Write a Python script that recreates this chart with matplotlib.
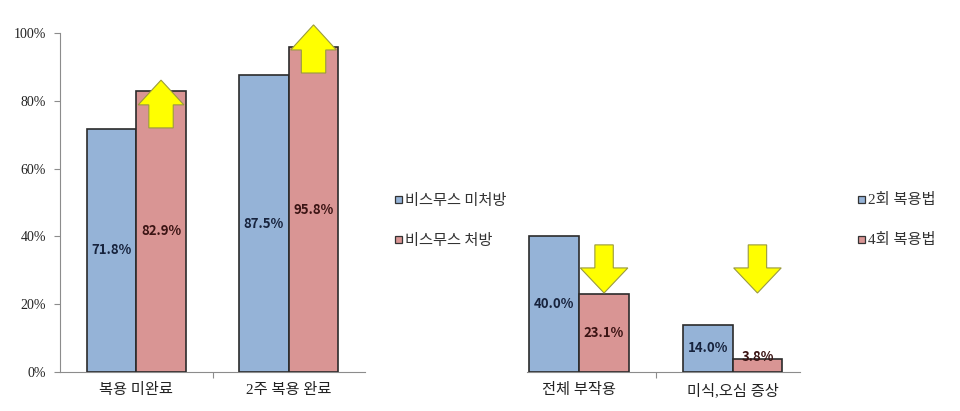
import matplotlib.pyplot as plt
from matplotlib.patches import Polygon, Rectangle

# data
cats_left = ['복용 미완료', '2주 복용 완료']
left_no = [71.8, 87.5]      # 비스무스 미처방
left_yes = [82.9, 95.8]     # 비스무스 처방
left_legend = ['비스무스 미처방', '비스무스 처방']

cats_right = ['전체 부작용', '미식,오심 증상']
right_2 = [40.0, 14.0]      # 2회 복용법
right_4 = [23.1, 3.8]       # 4회 복용법
right_legend = ['2회 복용법', '4회 복용법']

yticks = [0, 20, 40, 60, 80, 100]

blue = '#95B3D7'
pink = '#D99594'
edge = '#2b2b2b'
yellow = '#FFFF00'
serif_kr = ['Liberation Serif', 'Noto Sans CJK KR']
sans_kr = ['Noto Sans CJK KR', 'DejaVu Sans']

fig = plt.figure(figsize=(9.6, 4.11), dpi=100)
W, H = 960, 411
axL = fig.add_axes([60 / W, (H - 372) / H, 305 / W, 339 / H])
axR = fig.add_axes([527 / W, (H - 372) / H, 273 / W, 339 / H])

bw = 0.325


def arrow(ax, xc, y0, y1, ybase, head_w, shaft_w):
    # y0: shaft end, ybase: head base, y1: tip
    pts = [(xc - shaft_w / 2, y0), (xc + shaft_w / 2, y0), (xc + shaft_w / 2, ybase),
           (xc + head_w / 2, ybase), (xc, y1), (xc - head_w / 2, ybase),
           (xc - shaft_w / 2, ybase)]
    ax.add_patch(Polygon(pts, closed=True, fc=yellow, ec='#9a9a40', lw=0.8,
                         clip_on=False, zorder=5))


def draw(ax, cats, a, b, lbl_col):
    x = list(range(len(cats)))
    ax.bar([i - bw / 2 for i in x], a, bw, color=blue, edgecolor=edge, lw=1.2, zorder=3)
    ax.bar([i + bw / 2 for i in x], b, bw, color=pink, edgecolor=edge, lw=1.2, zorder=3)
    for i in x:
        for dx, v, c in [(-bw / 2, a[i], '#17233d'), (bw / 2, b[i], '#3b1414')]:
            y = v / 2 if v > 10 else v + 0.6
            ax.text(i + dx, y, f'{v:.1f}%', ha='center', va='center', fontsize=9.5,
                    fontweight='bold', color=c, family=sans_kr, zorder=6)
    ax.set_ylim(0, 100)
    ax.set_xticks([0.5])
    ax.set_xticklabels([])
    for i, c in enumerate(cats):
        ax.text(i, -3.3, c, ha='center', va='top', fontsize=11, family=serif_kr,
                color='#222222')
    for s in ['top', 'right']:
        ax.spines[s].set_visible(False)
    ax.spines['bottom'].set_color('#8c8c8c')
    ax.spines['left'].set_color('#8c8c8c')
    ax.tick_params(axis='x', length=4, color='#8c8c8c')


draw(axL, cats_left, left_no, left_yes, None)
axL.set_xlim(-0.5, 1.5)
axL.set_yticks(yticks)
axL.set_yticklabels([f'{t}%' for t in yticks], family='Liberation Serif', fontsize=10,
                    color='#222222')
axL.tick_params(axis='y', length=4, color='#8c8c8c', pad=6)

draw(axR, cats_right, right_2, right_4, None)
axR.set_xlim(-0.34, 1.44)
axR.spines['left'].set_visible(False)
axR.set_yticks([])

# arrows
arrow(axL, bw / 2, 72.0, 86.1, 78.8, 0.30, 0.16)
arrow(axL, 1 + bw / 2, 88.2, 102.4, 95.0, 0.30, 0.16)
arrow(axR, bw / 2, 37.5, 23.3, 30.7, 0.31, 0.12)
arrow(axR, 1 + bw / 2, 37.5, 23.3, 30.7, 0.31, 0.12)


# legends
def legend(xm, labels, fam):
    for k, (lab, col) in enumerate(zip(labels, [blue, pink])):
        yp = 200 + 40 * k
        fig.patches.append(Rectangle(((xm - 3.5) / W, (H - yp - 3.5) / H), 7 / W, 7 / H,
                                     fc=col, ec='#333333', lw=0.9,
                                     transform=fig.transFigure, figure=fig))
        fig.text((xm + 7) / W, (H - yp) / H, lab, ha='left', va='center', fontsize=11,
                 family=fam, color='#333333')


legend(398, left_legend, sans_kr)
legend(861, right_legend, serif_kr)

fig.savefig('out.png', dpi=100)
